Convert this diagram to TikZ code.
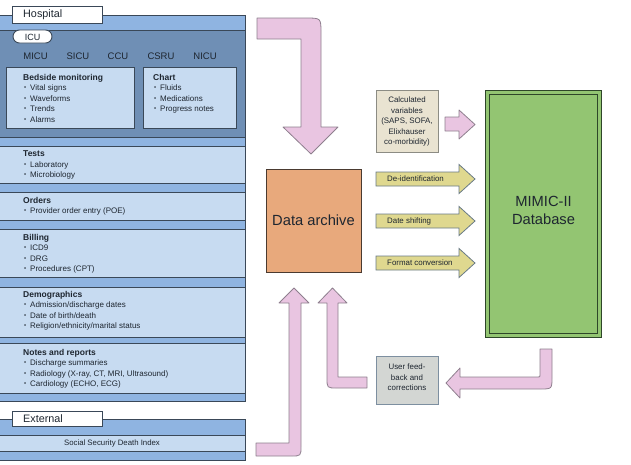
\documentclass[tikz,border=0pt]{standalone}
\usepackage{fontspec}
\setmainfont{Liberation Sans}
\definecolor{medblue}{HTML}{8FB4E1}
\definecolor{darkblue}{HTML}{6F8FB5}
\definecolor{lightblue}{HTML}{C7DBF1}
\definecolor{bord}{HTML}{3A4858}
\definecolor{textc}{HTML}{1E2630}
\definecolor{pinkf}{HTML}{E9C5E1}
\definecolor{pinkd}{HTML}{8E7F8E}
\definecolor{orangef}{HTML}{E8A97C}
\definecolor{oranged}{HTML}{4A3A30}
\definecolor{beigef}{HTML}{E9E3D1}
\definecolor{beiged}{HTML}{8C8C84}
\definecolor{yellowf}{HTML}{DFD88F}
\definecolor{yellowd}{HTML}{687A86}
\definecolor{greenf}{HTML}{93C572}
\definecolor{greend}{HTML}{2E4629}
\definecolor{grayf}{HTML}{D3D6D3}
\definecolor{grayd}{HTML}{7D8FA0}
\newcommand\stitle[1]{{\fontsize{8.5}{10.5}\selectfont\bfseries #1}}
\newcommand\bul{\hspace*{1pt}\makebox[6pt][l]{\fontsize{6}{6}\selectfont\raisebox{0.8pt}{•}}}
\begin{document}
\begin{tikzpicture}[x=1pt,y=-1pt,
  panel/.style={fill=medblue, draw=bord, line width=0.9pt},
  icupanel/.style={fill=darkblue, draw=bord, line width=0.9pt},
  sect/.style={fill=lightblue, draw=bord, line width=0.9pt},
  tabbox/.style={fill=white, draw=bord, line width=0.9pt},
  sectxt/.style={anchor=north west, inner sep=0pt, align=left, text=textc, font=\fontsize{8}{10.5}\selectfont},
  unitxt/.style={anchor=base, inner sep=0pt, text=textc, font=\fontsize{9.5}{11}\selectfont},
  tabtxt/.style={anchor=west, inner sep=0pt, text=textc, font=\fontsize{10.8}{12}\selectfont},
  pinkarrow/.style={fill=pinkf, draw=pinkd, line width=0.8pt, line join=round},
  yarrow/.style={fill=yellowf, draw=yellowd, line width=0.8pt},
  smalltxt/.style={inner sep=0pt, text=textc, align=center, font=\fontsize{7.9}{10.5}\selectfont},
  ytxt/.style={anchor=west, inner sep=0pt, text=textc, font=\fontsize{7.9}{9}\selectfont},
  bigtxt/.style={text=textc, align=center, font=\fontsize{14.7}{17.5}\selectfont}
]
\useasboundingbox (0,0) rectangle (631,464);

% ---------------- Hospital panel ----------------
\draw[panel] (-3,15) rectangle (245,401);
\draw[icupanel] (-3,30) rectangle (245,137);
\draw[sect] (6,67) rectangle (134,128);
\draw[sect] (143,67) rectangle (236,128);
\draw[sect] (-3,146) rectangle (245,183);
\draw[sect] (-3,192) rectangle (245,220);
\draw[sect] (-3,229) rectangle (245,277);
\draw[sect] (-3,287) rectangle (245,337);
\draw[sect] (-3,343) rectangle (245,393);

\draw[tabbox] (12,6) rectangle (102,23);
\node[tabtxt] (hosp) at (23,15) {Hospital};
\draw[tabbox, rounded corners=6.5pt] (13,30) rectangle (52,43);
\node[tabtxt, font=\fontsize{9}{11}\selectfont, anchor=center] (icu) at (32.5,37) {ICU};

\node[unitxt] (micu) at (35.5,59.5) {MICU};
\node[unitxt] (sicu) at (78,59.5) {SICU};
\node[unitxt] (ccu) at (118,59.5) {CCU};
\node[unitxt] (csru) at (161,59.5) {CSRU};
\node[unitxt] (nicu) at (205,59.5) {NICU};

\node[sectxt] (bedside) at (23,73.7) {\stitle{Bedside monitoring}\\ \bul Vital signs\\ \bul Waveforms\\ \bul Trends\\ \bul Alarms};
\node[sectxt] (chart) at (153,73.7) {\stitle{Chart}\\ \bul Fluids\\ \bul Medications\\ \bul Progress notes};
\node[sectxt] (tests) at (23,150.7) {\stitle{Tests}\\ \bul Laboratory\\ \bul Microbiology};
\node[sectxt] (orders) at (23,196.7) {\stitle{Orders}\\ \bul Provider order entry (POE)};
\node[sectxt] (billing) at (23,233.7) {\stitle{Billing}\\ \bul ICD9\\ \bul DRG\\ \bul Procedures (CPT)};
\node[sectxt] (demo) at (23,290.7) {\stitle{Demographics}\\ \bul Admission/discharge dates\\ \bul Date of birth/death\\ \bul Religion/ethnicity/marital status};
\node[sectxt] (notes) at (23,348.7) {\stitle{Notes and reports}\\ \bul Discharge summaries\\ \bul Radiology (X-ray, CT, MRI, Ultrasound)\\ \bul Cardiology (ECHO, ECG)};

% ---------------- External panel ----------------
\draw[panel] (-3,419) rectangle (245,460);
\draw[sect] (-3,435) rectangle (245,451);
\draw[tabbox] (12,411) rectangle (102,426);
\node[tabtxt] (ext) at (23,418.5) {External};
\node[sectxt, anchor=center, font=\fontsize{7.8}{9}\selectfont] (ssdi) at (112,443) {Social Security Death Index};

% ---------------- Central boxes ----------------
\node[draw=oranged, fill=orangef, line width=0.9pt, minimum width=95pt, minimum height=103pt, inner sep=0pt] (archive) at (313.5,220.5) {};
\node[bigtxt] at (archive.center) {Data archive};

\node[draw=greend, line width=0.9pt, double=greenf, double distance=3.6pt, fill=greenf, minimum width=112pt, minimum height=243pt, inner sep=0pt] (mimic) at (543.5,214) {};
\node[bigtxt] (mimictxt) at (543.5,210.5) {MIMIC-II\\Database};

\node[draw=beiged, fill=beigef, line width=0.8pt, minimum width=62pt, minimum height=62pt, inner sep=0pt] (calc) at (407,121) {};
\node[smalltxt] at (407,121.5) {Calculated\\variables\\(SAPS, SOFA,\\Elixhauser\\co-morbidity)};

\node[draw=grayd, fill=grayf, line width=0.8pt, minimum width=62pt, minimum height=48pt, inner sep=0pt] (user) at (407,380) {};
\node[smalltxt] at (407,377.5) {User feed-\\back and\\corrections};

% ---------------- Pink arrows ----------------
% hospital -> archive
\draw[pinkarrow] (257,18) -- (306,18) .. controls (321,18) .. (321,33) -- (321,127) -- (338,127) -- (311,154) -- (283,127) -- (301,127) -- (301,39) -- (257,39) -- cycle;
% external -> archive
\draw[pinkarrow] (256,443) -- (289,443) -- (289,303) -- (279,303) -- (294,288) -- (309,303) -- (301,303) -- (301,446) .. controls (301,456) .. (291,456) -- (256,456) -- cycle;
% user feedback -> archive
\draw[pinkarrow] (367,377) -- (338,377) -- (338,303) -- (347,303) -- (332.5,288) -- (318,303) -- (327,303) -- (327,378) .. controls (327,388) .. (337,388) -- (367,388) -- cycle;
% mimic -> user feedback
\draw[pinkarrow] (540,349) -- (552,349) -- (552,377) .. controls (552,389) .. (540,389) -- (460,389) -- (460,398) -- (446,383) -- (460,368) -- (460,377) -- (538,377) .. controls (540,377) .. (540,375) -- cycle;
% calculated -> mimic
\draw[pinkarrow] (445,117) -- (459,117) -- (459,110) -- (475,124.5) -- (459,139) -- (459,131) -- (445,131) -- cycle;

% ---------------- Yellow arrows ----------------
\foreach \yy/\nm/\lab in {179/deid/De-identification, 221/dshift/Date shifting, 263/fconv/Format conversion}{
  \draw[yarrow] (376,\yy-7) -- (459,\yy-7) -- (459,\yy-14.5) -- (475,\yy) -- (459,\yy+14.5) -- (459,\yy+7) -- (376,\yy+7) -- cycle;
  \node[ytxt] (\nm) at (387,\yy) {\lab};
}
\end{tikzpicture}
\end{document}
